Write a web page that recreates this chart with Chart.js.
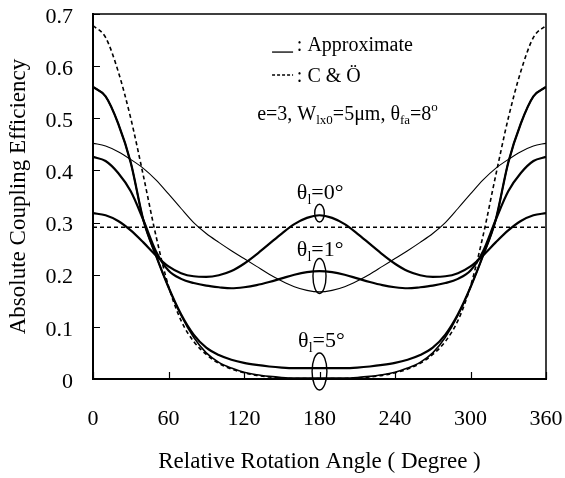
<!DOCTYPE html>
<html>
<head>
<meta charset="utf-8">
<script src="https://cdn.jsdelivr.net/npm/chart.js@4.4.0/dist/chart.umd.min.js"></script>
<style>
  html, body { margin: 0; padding: 0; background: #fff; }
  #wrap { width: 565px; height: 478px; }
</style>
</head>
<body>
<div id="wrap"><canvas id="chart" width="565" height="478"></canvas></div>
<script>
// relative rotation angle (degree)
const angles = [0, 10, 20, 30, 40, 50, 60, 70, 80, 90, 100, 110, 120, 130, 140, 150, 160, 170, 180,
  190, 200, 210, 220, 230, 240, 250, 260, 270, 280, 290, 300, 310, 320, 330, 340, 350, 360];

// theta_l = 0 deg
const thetaZeroApprox = [0.318, 0.314, 0.303, 0.285, 0.262, 0.237, 0.216, 0.203, 0.197, 0.196, 0.199, 0.207, 0.221, 0.239, 0.259, 0.279, 0.297, 0.309, 0.314,
  0.309, 0.297, 0.279, 0.259, 0.239, 0.221, 0.207, 0.199, 0.196, 0.197, 0.203, 0.216, 0.237, 0.262, 0.285, 0.303, 0.314, 0.318];
const thetaZeroCO = [0.291, 0.291, 0.291, 0.291, 0.291, 0.291, 0.291, 0.291, 0.291, 0.291, 0.291, 0.291, 0.291, 0.291, 0.291, 0.291, 0.291, 0.291, 0.291,
  0.291, 0.291, 0.291, 0.291, 0.291, 0.291, 0.291, 0.291, 0.291, 0.291, 0.291, 0.291, 0.291, 0.291, 0.291, 0.291, 0.291, 0.291];

// theta_l = 1 deg
const thetaOneApprox = [0.426, 0.418, 0.395, 0.36, 0.305, 0.245, 0.208, 0.192, 0.184, 0.179, 0.176, 0.174, 0.176, 0.18, 0.186, 0.193, 0.2, 0.205, 0.207,
  0.205, 0.2, 0.193, 0.186, 0.18, 0.176, 0.174, 0.176, 0.179, 0.184, 0.192, 0.208, 0.245, 0.305, 0.36, 0.395, 0.418, 0.426];
const thetaOneCO = [0.452, 0.447, 0.436, 0.421, 0.404, 0.382, 0.355, 0.327, 0.3, 0.279, 0.262, 0.246, 0.231, 0.216, 0.201, 0.188, 0.177, 0.17, 0.167,
  0.17, 0.177, 0.188, 0.201, 0.216, 0.231, 0.246, 0.262, 0.279, 0.3, 0.327, 0.355, 0.382, 0.404, 0.421, 0.436, 0.447, 0.452];

// theta_l = 5 deg
const thetaFiveApprox = [0.56, 0.542, 0.49, 0.415, 0.305, 0.237, 0.176, 0.124, 0.085, 0.06, 0.046, 0.037, 0.031, 0.027, 0.024, 0.022, 0.021, 0.021, 0.021,
  0.021, 0.021, 0.022, 0.024, 0.027, 0.031, 0.037, 0.046, 0.06, 0.085, 0.124, 0.176, 0.237, 0.305, 0.415, 0.49, 0.542, 0.56];
const thetaFiveLower = [0.56, 0.542, 0.49, 0.415, 0.305, 0.237, 0.176, 0.122, 0.08, 0.05, 0.032, 0.021, 0.013, 0.008, 0.005, 0.003, 0.002, 0.002, 0.002,
  0.002, 0.002, 0.003, 0.005, 0.008, 0.013, 0.021, 0.032, 0.05, 0.08, 0.122, 0.176, 0.237, 0.305, 0.415, 0.49, 0.542, 0.56];
const thetaFiveCO = [0.678, 0.655, 0.59, 0.5, 0.39, 0.275, 0.178, 0.112, 0.072, 0.047, 0.03, 0.019, 0.012, 0.007, 0.004, 0.002, 0.001, 0.001, 0.001,
  0.001, 0.001, 0.002, 0.004, 0.007, 0.012, 0.019, 0.03, 0.047, 0.072, 0.112, 0.178, 0.275, 0.39, 0.5, 0.59, 0.655, 0.678];

const xTickValues = [0, 60, 120, 180, 240, 300, 360];
const yTickValues = [0, 0.1, 0.2, 0.3, 0.4, 0.5, 0.6, 0.7];

const SERIF = "'Liberation Serif', 'Times New Roman', serif";

function points(values) {
  return angles.map((a, i) => ({ x: a, y: values[i] }));
}

function line(values, width, dash) {
  return {
    data: points(values),
    borderColor: '#000',
    borderWidth: width,
    borderDash: dash || [],
    pointRadius: 0,
    fill: false,
    cubicInterpolationMode: 'monotone'
  };
}

// text notes, placed in data units (angle, efficiency)
const notes = [
  { x: 162, y: 0.629, parts: [[': Approximate', 20, 0]] },
  { x: 162, y: 0.5695, parts: [[': C & \u00D6', 20, 0]] },
  { x: 130.5, y: 0.497, parts: [['e=3, W', 20, 0], ['lx0', 13, 4], ['=5\u03BCm, \u03B8', 20, 0], ['fa', 13, 4], ['=8', 20, 0], ['o', 13, -9]] },
  { x: 162, y: 0.345, parts: [['\u03B8', 22, 0], ['l', 14, 5], ['=0\u00B0', 22, 0]] },
  { x: 162, y: 0.236, parts: [['\u03B8', 22, 0], ['l', 14, 5], ['=1\u00B0', 22, 0]] },
  { x: 163, y: 0.061, parts: [['\u03B8', 22, 0], ['l', 14, 5], ['=5\u00B0', 22, 0]] }
];

// ellipses around the three groups at 180 degree
const rings = [
  { x: 180, lo: 0.301, hi: 0.335, halfWidth: 3.8 },
  { x: 180, lo: 0.164, hi: 0.231, halfWidth: 5.2 },
  { x: 180, lo: -0.021, hi: 0.05, halfWidth: 5.9 }
];

const decorations = {
  id: 'decorations',
  afterDatasetsDraw(chart) {
    const { ctx, chartArea: a, scales: { x, y } } = chart;
    ctx.save();
    ctx.strokeStyle = '#000';
    ctx.fillStyle = '#000';

    // top and right side of the frame
    ctx.lineWidth = 1.5;
    ctx.beginPath();
    ctx.moveTo(a.left, a.top);
    ctx.lineTo(a.right, a.top);
    ctx.lineTo(a.right, a.bottom);
    ctx.stroke();

    // ticks pointing inward
    ctx.lineWidth = 1.2;
    ctx.beginPath();
    yTickValues.forEach(v => {
      const py = Math.round(y.getPixelForValue(v)) + 0.5;
      ctx.moveTo(a.left, py);
      ctx.lineTo(a.left + 7, py);
    });
    xTickValues.forEach(v => {
      const px = Math.round(x.getPixelForValue(v)) + 0.5;
      ctx.moveTo(px, a.bottom);
      ctx.lineTo(px, a.bottom - 7);
    });
    ctx.stroke();

    // legend keys
    const ly1 = y.getPixelForValue(0.627);
    const ly2 = y.getPixelForValue(0.583);
    const lx1 = x.getPixelForValue(142.3);
    const lx2 = x.getPixelForValue(159);
    ctx.lineWidth = 1.3;
    ctx.beginPath();
    ctx.moveTo(lx1, ly1);
    ctx.lineTo(lx2, ly1);
    ctx.stroke();
    ctx.setLineDash([3, 2]);
    ctx.beginPath();
    ctx.moveTo(lx1, ly2);
    ctx.lineTo(lx2, ly2);
    ctx.stroke();
    ctx.setLineDash([]);

    // notes
    ctx.textBaseline = 'alphabetic';
    ctx.textAlign = 'left';
    notes.forEach(n => {
      let px = x.getPixelForValue(n.x);
      const py = y.getPixelForValue(n.y);
      n.parts.forEach(([t, size, dy]) => {
        ctx.font = size + 'px ' + SERIF;
        ctx.fillText(t, px, py + dy);
        px += ctx.measureText(t).width;
      });
    });

    // ellipses
    ctx.lineWidth = 1.4;
    rings.forEach(r => {
      const cx = x.getPixelForValue(r.x);
      const top = y.getPixelForValue(r.hi);
      const bottom = y.getPixelForValue(r.lo);
      const rx = x.getPixelForValue(r.x + r.halfWidth) - cx;
      ctx.beginPath();
      ctx.ellipse(cx, (top + bottom) / 2, rx, (bottom - top) / 2, 0, 0, Math.PI * 2);
      ctx.stroke();
    });
    ctx.restore();
  }
};

new Chart(document.getElementById('chart'), {
  type: 'line',
  data: {
    datasets: [
      line(thetaZeroApprox, 2.2),
      line(thetaZeroCO, 1.5, [4, 3]),
      line(thetaOneApprox, 2.2),
      line(thetaOneCO, 1.1),
      line(thetaFiveApprox, 2.2),
      line(thetaFiveLower, 1.6),
      line(thetaFiveCO, 1.6, [4, 3])
    ]
  },
  options: {
    responsive: false,
    animation: false,
    layout: { padding: { left: 0, right: 19, top: 14, bottom: 0 } },
    plugins: { legend: { display: false }, tooltip: { enabled: false } },
    scales: {
      x: {
        type: 'linear',
        min: 0,
        max: 360,
        afterBuildTicks: s => { s.ticks = xTickValues.map(v => ({ value: v })); },
        afterFit: s => { s.height = 99; s.paddingLeft = 0; s.paddingRight = 0; },
        grid: { display: false, drawTicks: false },
        border: { display: true, color: '#000', width: 2 },
        ticks: { color: '#000', padding: 27, maxRotation: 0, font: { family: SERIF, size: 22 } },
        title: {
          display: true,
          text: 'Relative Rotation Angle ( Degree )',
          color: '#000',
          font: { family: SERIF, size: 23 },
          padding: { top: 0, bottom: 2 }
        }
      },
      y: {
        min: 0,
        max: 0.7,
        afterBuildTicks: s => { s.ticks = yTickValues.map(v => ({ value: v })); },
        afterFit: s => { s.width = 93; s.paddingTop = 0; s.paddingBottom = 0; },
        grid: { display: false, drawTicks: false },
        border: { display: true, color: '#000', width: 2 },
        ticks: { color: '#000', padding: 20, labelOffset: 3, font: { family: SERIF, size: 22 } },
        title: {
          display: true,
          text: 'Absolute Coupling Efficiency',
          color: '#000',
          font: { family: SERIF, size: 23 },
          padding: { top: 5, bottom: 0 }
        }
      }
    }
  },
  plugins: [decorations]
});
</script>
</body>
</html>
